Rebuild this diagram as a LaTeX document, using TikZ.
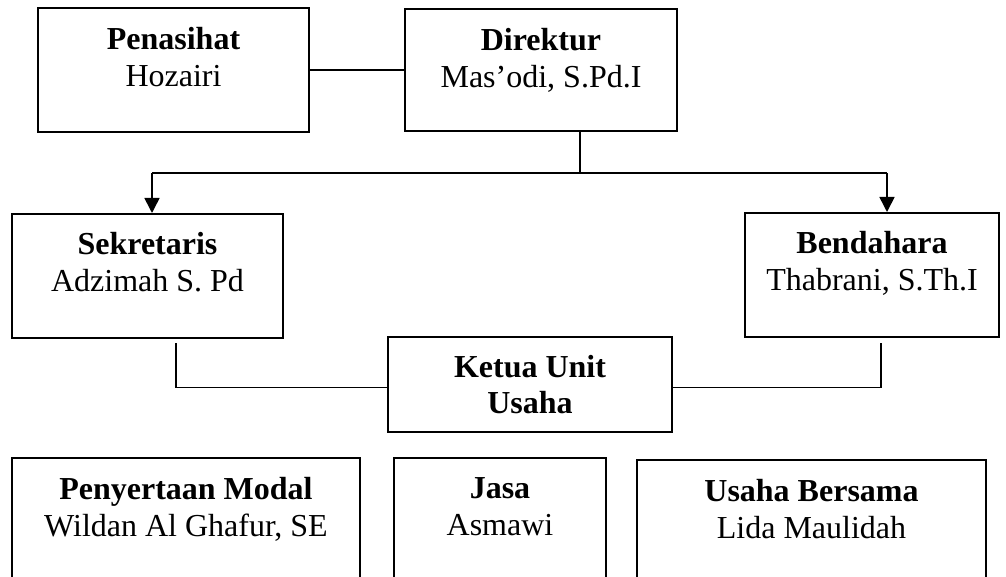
\documentclass[tikz,border=0pt]{standalone}
\usepackage{fontspec}
\setmainfont{Liberation Serif}
\usetikzlibrary{arrows.meta,calc}

\tikzset{
  kotak/.style={draw, line width=2pt, anchor=north west, inner sep=0pt},
  teks/.style={anchor=north, align=center, inner sep=0pt, font=\fontsize{32}{37}\selectfont},
  garis/.style={line width=1.6pt},
  panah/.style={garis, -{Triangle[length=15pt,width=15pt]}}
}

\begin{document}
\begin{tikzpicture}[x=1pt, y=-1pt]
  \clip (0,0) rectangle (1006,577);

  % Kotak atas
  \node[kotak, minimum width=271pt, minimum height=124pt] (pen) at (37,7) {};
  \node[kotak, minimum width=272pt, minimum height=122pt] (dir) at (404,8) {};
  \node[teks] (pen-t) at ([yshift=-20pt]pen.north) {\textbf{Penasihat}\\Hozairi};
  \node[teks] (dir-t) at ([yshift=-20pt]dir.north) {\textbf{Direktur}\\Mas’odi, S.Pd.I};

  % Kotak tengah
  \node[kotak, minimum width=271pt, minimum height=124pt] (sek) at (11,213) {};
  \node[kotak, minimum width=254pt, minimum height=124pt] (ben) at (744,212) {};
  \node[teks] (sek-t) at ([yshift=-19pt]sek.north) {\textbf{Sekretaris}\\Adzimah S. Pd};
  \node[teks] (ben-t) at ([yshift=-19pt]ben.north) {\textbf{Bendahara}\\Thabrani, S.Th.I};
  \node[kotak, minimum width=284pt, minimum height=95pt, align=center,
        font=\fontsize{32}{36}\selectfont\bfseries] (ketua) at (387,336) {Ketua Unit\\Usaha};

  % Kotak bawah
  \node[kotak, minimum width=348pt, minimum height=200pt] (modal) at (11,457) {};
  \node[kotak, minimum width=212pt, minimum height=200pt] (jasa) at (393,457) {};
  \node[kotak, minimum width=349pt, minimum height=200pt] (bersama) at (636,459) {};
  \node[teks] (modal-t) at ([yshift=-20pt]modal.north) {\textbf{Penyertaan Modal}\\Wildan Al Ghafur, SE};
  \node[teks] (jasa-t) at ([yshift=-20pt]jasa.north) {\textbf{Jasa}\\Asmawi};
  \node[teks] (bersama-t) at ([yshift=-20pt]bersama.north) {\textbf{Usaha Bersama}\\Lida Maulidah};

  % Garis penghubung
  \coordinate (cab) at (580,173);
  \coordinate (kiri) at (152,173);
  \coordinate (kanan) at (887,173);
  \coordinate (sek-b) at (176,343);
  \coordinate (ben-b) at (881,343);

  \draw[garis] (pen) -- (dir);
  \draw[garis] (dir.south -| cab) -- (cab);
  \draw[garis] (kiri) -- (kanan);
  \draw[panah] (kiri) -- (kiri |- sek.north);
  \draw[panah] (kanan) -- (kanan |- ben.north);
  \draw[garis] (sek-b) |- ([yshift=-3pt]ketua.west);
  \draw[garis] (ben-b) |- ([yshift=-3pt]ketua.east);
\end{tikzpicture}
\end{document}
